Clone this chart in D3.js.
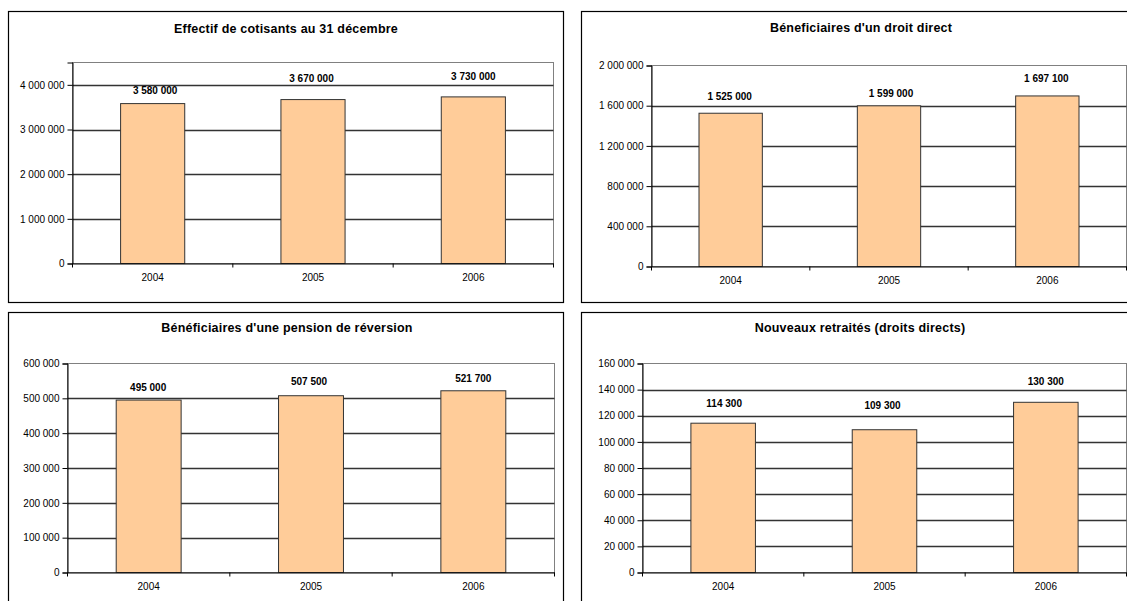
<!DOCTYPE html>
<html>
<head>
<meta charset="utf-8">
<script src="https://cdn.jsdelivr.net/npm/d3@7"></script>
<style>
  html, body { margin: 0; padding: 0; background: #fff; }
  svg { display: block; }
  text { font-family: "Liberation Sans", Arial, sans-serif; fill: #000; }
</style>
</head>
<body>
<svg id="chart" width="1127" height="601"></svg>
<script>
// Années communes aux quatre graphiques
const years = ["2004", "2005", "2006"];

// Séries (effectifs)
const cotisants = [3580000, 3670000, 3730000];
const droitDirect = [1525000, 1599000, 1697100];
const reversion = [495000, 507500, 521700];
const nouveauxRetraites = [114300, 109300, 130300];

// Titres
const titles = [
  "Effectif de cotisants au 31 décembre",
  "Béneficiaires d'un droit direct",
  "Bénéficiaires d'une pension de réversion",
  "Nouveaux retraités (droits directs)"
];

// Graduations de l'axe des valeurs
const ticksCotisants = [0, 1000000, 2000000, 3000000, 4000000];
const ticksDroitDirect = [0, 400000, 800000, 1200000, 1600000, 2000000];
const ticksReversion = [0, 100000, 200000, 300000, 400000, 500000, 600000];
const ticksNouveaux = [0, 20000, 40000, 60000, 80000, 100000, 120000, 140000, 160000];

// Bornes supérieures des axes
const axisMax = [4500000, 2000000, 600000, 160000];

// Mise en page de chaque panneau (cadre, zone de tracé, décalage des étiquettes)
const panels = [
  { values: cotisants, ticks: ticksCotisants, max: axisMax[0], title: titles[0],
    frame: [8.5, 11.5, 563.5, 302.5], plot: [72.5, 62.5, 553.5, 263.5], titleX: 286, titleY: 29,
    lift: [12.6, 21.4, 20.7], labelDx: [2.5, -1.5, 0] },
  { values: droitDirect, ticks: ticksDroitDirect, max: axisMax[1], title: titles[1],
    frame: [581.5, 11.5, 1140, 302.5], plot: [651.5, 65.5, 1126.5, 266.5], titleX: 861, titleY: 28,
    lift: [16.8, 12.4, 17.6], labelDx: [-1, 2, -1] },
  { values: reversion, ticks: ticksReversion, max: axisMax[2], title: titles[2],
    frame: [8.5, 312.5, 563.5, 610], plot: [67.5, 363.5, 554.5, 572.5], titleX: 287, titleY: 328,
    lift: [12.7, 14.4, 12.0], labelDx: [-0.5, -2, 0] },
  { values: nouveauxRetraites, ticks: ticksNouveaux, max: axisMax[3], title: titles[3],
    frame: [581.5, 312.5, 1140, 610], plot: [642.5, 363.5, 1126.5, 572.5], titleX: 860, titleY: 328,
    lift: [19.3, 23.8, 20.8], labelDx: [1, -2, 0] }
];

const fr = d3.formatLocale({ decimal: ",", thousands: "\u00a0", grouping: [3], currency: ["", " €"] });
const fmt = fr.format(",d");

const svg = d3.select("#chart");

panels.forEach(p => {
  const g = svg.append("g");
  const [fx0, fy0, fx1, fy1] = p.frame;
  const [left, top, right, bottom] = p.plot;

  // cadre du graphique
  g.append("rect")
    .attr("x", fx0).attr("y", fy0)
    .attr("width", fx1 - fx0).attr("height", fy1 - fy0)
    .attr("fill", "#fff").attr("stroke", "#000").attr("stroke-width", 1.2);

  // titre
  g.append("text")
    .attr("x", p.titleX)
    .attr("y", p.titleY)
    .attr("text-anchor", "middle")
    .attr("dominant-baseline", "central")
    .attr("font-size", "12.5px").attr("font-weight", "bold")
    .attr("letter-spacing", "0.2px")
    .text(p.title);

  const x = d3.scaleBand().domain(years).range([left, right]).paddingInner(0.6).paddingOuter(0.3);
  const y = d3.scaleLinear().domain([0, p.max]).range([bottom, top]);

  // bordure de la zone de tracé
  g.append("rect")
    .attr("x", left).attr("y", top)
    .attr("width", right - left).attr("height", bottom - top)
    .attr("fill", "none").attr("stroke", "#808080").attr("stroke-width", 1);

  // quadrillage horizontal
  g.append("g").selectAll("line")
    .data(p.ticks.filter(t => t > 0 && t < p.max))
    .join("line")
    .attr("x1", left).attr("x2", right)
    .attr("y1", d => Math.round(y(d)) + 0.5).attr("y2", d => Math.round(y(d)) + 0.5)
    .attr("stroke", "#333").attr("stroke-width", 1.3);

  // barres
  g.append("g").selectAll("rect")
    .data(p.values)
    .join("rect")
    .attr("x", (d, i) => x(years[i]))
    .attr("y", d => y(d))
    .attr("width", x.bandwidth())
    .attr("height", d => bottom - y(d))
    .attr("fill", "#FFCC99")
    .attr("stroke", "#333").attr("stroke-width", 1);

  // axe des valeurs
  const yAxis = d3.axisLeft(y).tickValues(p.ticks).tickFormat(fmt).tickSizeOuter(0).tickSize(5).tickPadding(3);
  const ya = g.append("g").attr("transform", `translate(${left},0)`).call(yAxis);
  ya.select(".domain").attr("stroke", "#000");
  ya.selectAll(".tick line").attr("stroke", "#000");
  ya.selectAll(".tick text").attr("font-size", "10px").attr("font-family", "Liberation Sans, Arial, sans-serif").attr("fill", "#000");

  // axe des catégories
  const xAxis = d3.axisBottom(x).tickSize(0).tickPadding(10);
  const xa = g.append("g").attr("transform", `translate(0,${bottom})`).call(xAxis);
  xa.select(".domain").attr("stroke", "#000");
  xa.selectAll(".tick text").attr("font-size", "10px").attr("font-family", "Liberation Sans, Arial, sans-serif").attr("fill", "#000");

  // graduations entre les catégories
  const step = (right - left) / years.length;
  g.append("g").selectAll("line")
    .data(d3.range(years.length + 1))
    .join("line")
    .attr("x1", i => left + i * step).attr("x2", i => left + i * step)
    .attr("y1", bottom).attr("y2", bottom + 4)
    .attr("stroke", "#000");

  // étiquettes de valeur
  g.append("g").selectAll("text")
    .data(p.values)
    .join("text")
    .attr("x", (d, i) => x(years[i]) + x.bandwidth() / 2 + p.labelDx[i])
    .attr("y", (d, i) => y(d) - p.lift[i])
    .attr("text-anchor", "middle")
    .attr("dominant-baseline", "central")
    .attr("font-size", "10px").attr("font-weight", "bold")
    .text(d => fmt(d));
});
</script>
</body>
</html>
